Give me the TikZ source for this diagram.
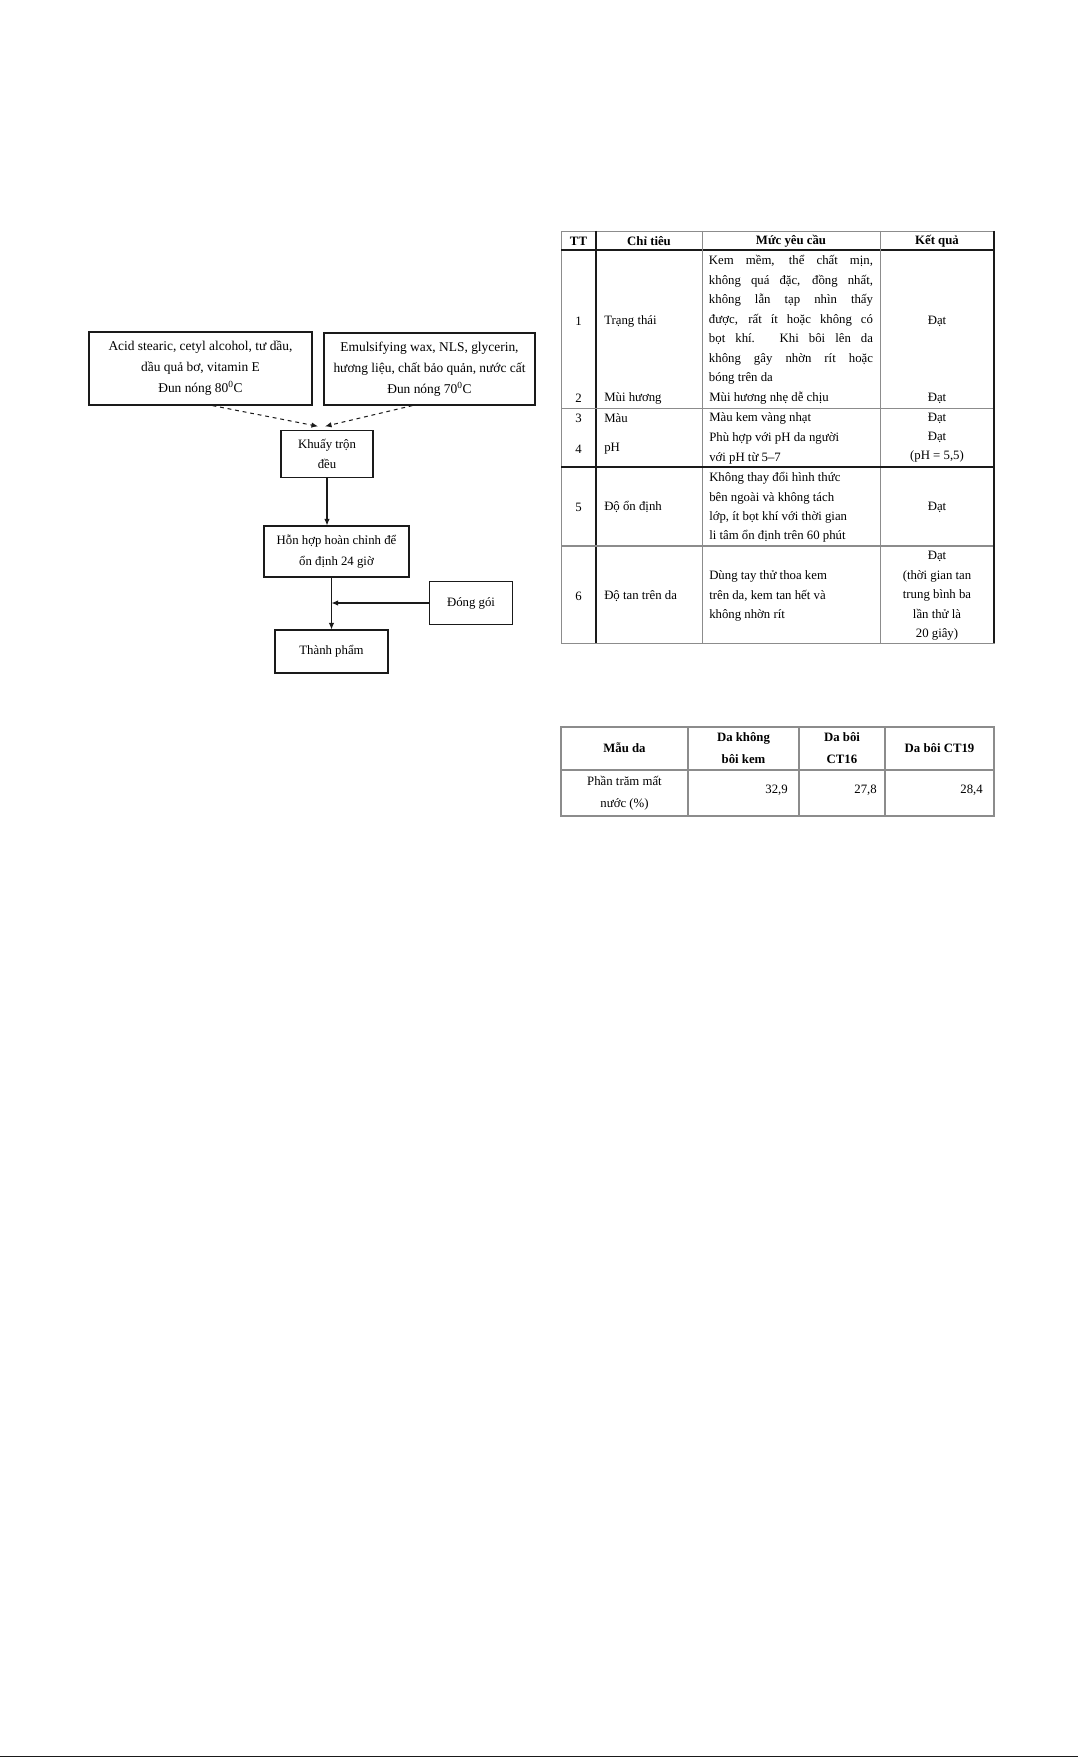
\documentclass[tikz,border=0pt]{standalone}
\usepackage{fontspec}
\setmainfont{Liberation Serif}
\usetikzlibrary{arrows.meta,positioning,calc}
\definecolor{ink}{HTML}{1A1A1A}
\definecolor{rulegray}{HTML}{8C8C8C}

\begin{document}
\begin{tikzpicture}[x=0.0275cm,y=-0.0275cm,every node/.style={font=\fontsize{10}{15.2}\selectfont,inner sep=0pt},box/.style={draw=ink,line width=0.9pt,align=center},arr/.style={-{Latex[length=1.8mm,width=1.5mm]},line width=0.8pt,draw=ink},dasharr/.style={arr,dashed},head/.style={font=\fontsize{10}{16.5}\selectfont\bfseries,align=center},req/.style={anchor=west,align=left},thickrule/.style={line width=1.2pt,draw=ink},thinrule/.style={line width=0.6pt,draw=rulegray}]
\useasboundingbox (0,0) rectangle (1078,1758);
% quy trình bào chế
\node[box,minimum width=6.13cm,minimum height=2.01cm,font=\fontsize{10.5}{16.4}\selectfont] (inL) at (200.5,368.5) {Acid stearic, cetyl alcohol, tư dầu,\\dầu quả bơ, vitamin E\\Đun nóng 80\textsuperscript{0}C};
\node[box,minimum width=5.80cm,minimum height=1.98cm,font=\fontsize{10.5}{16.4}\selectfont] (inR) at (429.5,369) {Emulsifying wax, NLS, glycerin,\\hương liệu, chất bảo quản, nước cất\\Đun nóng 70\textsuperscript{0}C};
\node[box,minimum width=2.53cm,minimum height=1.27cm] (mix) at (327,454) {Khuấy trộn\\đều};
\node[box,minimum width=3.99cm,minimum height=1.40cm,font=\fontsize{10}{16.4}\selectfont] (rest) at (336.5,551.5) {Hỗn hợp hoàn chỉnh để\\ổn định 24 giờ};
\node[box,minimum width=2.26cm,minimum height=1.16cm] (pack) at (471,603) {Đóng gói};
\node[box,minimum width=3.11cm,minimum height=1.18cm] (prod) at (331.5,651.5) {Thành phẩm};
\draw[dasharr] ($(inL.south)+(12,0)$) -- ($(mix.north)+(-9,-4)$);
\draw[dasharr] ($(inR.south)+(-17,0)$) -- ($(mix.north)+(-2,-4)$);
\draw[arr] (mix.south) -- (mix.south |- rest.north);
\draw[arr] (rest.south -| prod.north) -- (prod.north);
\draw[arr] (pack.west) -- (pack.west -| prod.north);
% bảng chỉ tiêu chất lượng
\draw[thinrule] (561,231) rectangle (994,643);
\draw[thickrule] (561,250) -- (994,250);
\draw[thickrule] (596,231) -- (596,643);
\draw[thinrule] (702,231) -- (702,643) (880,231) -- (880,643);
\draw[thinrule] (561,408) -- (994,408);
\draw[thickrule] (561,467) -- (994,467);
\draw[thinrule,line width=1pt] (561,546) -- (994,546);
\draw[line width=0.9pt,draw=ink] (994,231) -- (994,643);
\node[head] (hTT) at (578.5,241) {TT};
\node[head] (hCT) at (649,241) {Chỉ tiêu};
\node[head] (hMY) at (791,241) {Mức yêu cầu};
\node[head] (hKQ) at (937,241) {Kết quả};
\node (n1) at (578.5,321) {1};
\node (n2) at (578.5,398) {2};
\node (n3) at (578.5,418) {3};
\node (n4) at (578.5,449) {4};
\node (n5) at (578.5,507) {5};
\node (n6) at (578.5,596) {6};
\node[req] (c1) at (604,321) {Trạng thái};
\node[req] (c2) at (604,398) {Mùi hương};
\node[req] (c3) at (604,418) {Màu};
\node[req] (c4) at (604,449) {pH};
\node[req] (c5) at (604,507) {Độ ổn định};
\node[req] (c6) at (604,596) {Độ tan trên da};
\node[text width=4.51cm,align=justify] (m1) at (791,320) {Kem mềm, thể chất mịn,\linebreak không quá đặc, đồng nhất,\linebreak không lẫn tạp nhìn thấy\linebreak được, rất ít hoặc không có\linebreak bọt khí. Khi bôi lên da\linebreak không gây nhờn rít hoặc\linebreak bóng trên da};
\node[req] (m2) at (709,398) {Mùi hương nhẹ dễ chịu};
\node[req] (m3) at (709,418) {Màu kem vàng nhạt};
\node[req] (m4) at (709,448.5) {Phù hợp với pH da người\\với pH từ 5–7};
\node[req] (m5) at (709,507.5) {Không thay đổi hình thức\\bên ngoài và không tách\\lớp, ít bọt khí với thời gian\\li tâm ổn định trên 60 phút};
\node[req] (m6) at (709,596) {Dùng tay thử thoa kem\\trên da, kem tan hết và\\không nhờn rít};
\node (k1) at (937,321) {Đạt};
\node (k2) at (937,398) {Đạt};
\node (k3) at (937,418) {Đạt};
\node[align=center] (k4) at (937,447) {Đạt\\(pH = 5,5)};
\node (k5) at (937,507) {Đạt};
\node[align=center] (k6) at (937,596) {Đạt\\(thời gian tan\\trung bình ba\\lần thử là\\20 giây)};
% bảng mất nước
\draw[thinrule,line width=1pt] (561,727) rectangle (994,816);
\draw[thinrule,line width=1pt] (561,770) -- (994,770);
\draw[thinrule,line width=1pt] (688,727) -- (688,816) (799,727) -- (799,816) (885,727) -- (885,816);
\node[head,font=\fontsize{10}{17}\selectfont\bfseries] (sMau) at (624.5,748) {Mẫu da};
\node[head,font=\fontsize{10}{17}\selectfont\bfseries] (sKhong) at (743.5,748) {Da không\\bôi kem};
\node[head,font=\fontsize{10}{17}\selectfont\bfseries] (s16) at (842,748) {Da bôi\\CT16};
\node[head,font=\fontsize{10}{17}\selectfont\bfseries] (s19) at (939.5,748) {Da bôi CT19};
\node[align=center,font=\fontsize{10}{17.5}\selectfont] (sPct) at (624.5,793) {Phần trăm mất\\nước (\%)};
\node[anchor=east] (vKhong) at (788,790) {32,9};
\node[anchor=east] (v16) at (877,790) {27,8};
\node[anchor=east] (v19) at (983,790) {28,4};
\draw[line width=1.2pt,draw=ink] (0,1756.5) -- (1078,1756.5);
\end{tikzpicture}
\end{document}
